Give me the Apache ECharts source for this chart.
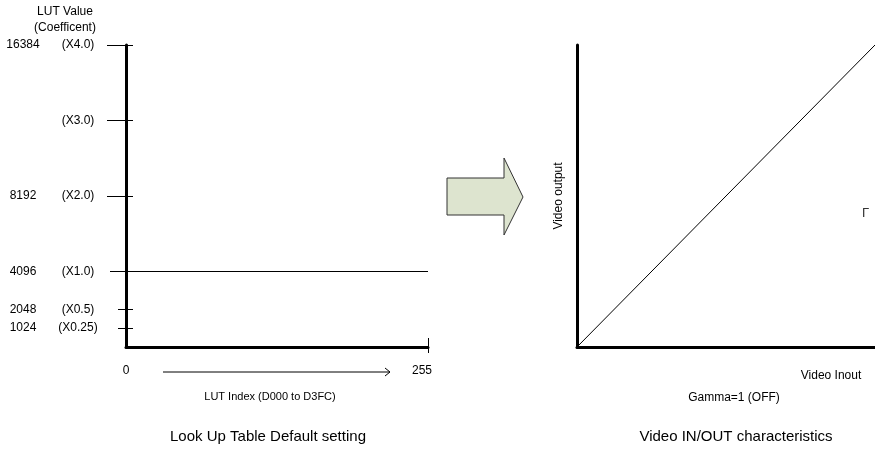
<!DOCTYPE html>
<html><head><meta charset="utf-8">
<script src="https://cdn.jsdelivr.net/npm/echarts@6/dist/echarts.min.js"></script>
<style>html,body{margin:0;padding:0;background:#fff}#c{width:875px;height:450px}</style>
</head><body><div id="c"></div>
<script>
// ---- data ----
const lutXRange = [0, 255];
const lutYRange = [0, 16384];
const lutLine = [[0, 4096], [255, 4096]];
const yTickValues = [1024, 2048, 4096, 8192, 12288, 16384];
const yNumLabels = ['1024', '2048', '4096', '8192', '', '16384'];
const yCoefLabels = ['(X0.25)', '(X0.5)', '(X1.0)', '(X2.0)', '(X3.0)', '(X4.0)'];
const longTicks = [8192, 12288, 16384];
const shortTicks = [1024, 2048];
const midTicks = [4096];
const innerTicks = [1024, 2048, 8192, 12288, 16384];
const xTickLabels = [0, 255];
const xTickMarks = [255];
const gammaRange = [0, 1];
const gammaLine = [[0, 0], [1, 1]];

const FONT = '"Liberation Sans", Arial, sans-serif';
const BLACK = '#000';
const chart = echarts.init(document.getElementById('c'), null, { renderer: 'canvas' });

function hiddenAxisBase(extra) {
  return Object.assign({
    type: 'value', gridIndex: 0, position: 'left', offset: 0,
    min: lutYRange[0], max: lutYRange[1],
    axisLine: { show: false }, axisLabel: { show: false }, splitLine: { show: false }
  }, extra);
}

const option = {
  animation: false,
  backgroundColor: '#fff',
  textStyle: { fontFamily: FONT, color: BLACK },
  grid: [
    { left: 126, top: 45, width: 302, height: 302 },
    { left: 577, top: 45, width: 302, height: 302 }
  ],
  xAxis: [
    {
      type: 'value', gridIndex: 0, position: 'bottom', min: lutXRange[0], max: lutXRange[1],
      axisLine: { show: true, lineStyle: { color: BLACK, width: 3 } },
      axisTick: { show: true, customValues: xTickMarks, length: 6, lineStyle: { color: BLACK, width: 1 } },
      axisLabel: {
        show: true, customValues: xTickLabels, margin: 18, color: BLACK, fontSize: 12, fontFamily: FONT,
        formatter: function (v) { return v === 0 ? '{a|0}' : '{b|' + v + '}'; },
        rich: {
          a: { fontSize: 12, fontFamily: FONT, color: BLACK },
          b: { fontSize: 12, fontFamily: FONT, color: BLACK, padding: [0, 12, 0, 0] }
        }
      },
      splitLine: { show: false }
    },
    {
      type: 'value', gridIndex: 0, position: 'bottom', offset: 0, min: lutXRange[0], max: lutXRange[1],
      axisLine: { show: false },
      axisTick: { show: true, inside: true, customValues: xTickMarks, length: 9, lineStyle: { color: BLACK, width: 1 } },
      axisLabel: { show: false }, splitLine: { show: false }
    },
    {
      type: 'value', gridIndex: 1, position: 'bottom', min: gammaRange[0], max: gammaRange[1],
      axisLine: { show: true, lineStyle: { color: BLACK, width: 3 } },
      axisTick: { show: false }, axisLabel: { show: false }, splitLine: { show: false }
    }
  ],
  yAxis: [
    {
      type: 'value', gridIndex: 0, position: 'left', min: lutYRange[0], max: lutYRange[1],
      axisLine: { show: true, lineStyle: { color: BLACK, width: 3 } },
      axisTick: { show: true, customValues: longTicks, length: 19, lineStyle: { color: BLACK, width: 1 } },
      axisLabel: {
        show: true, customValues: yTickValues, margin: 26, color: BLACK, fontSize: 12, fontFamily: FONT,
        formatter: function (v) {
          const i = yTickValues.indexOf(v);
          const n = yNumLabels[i] || ' ';
          return '{n|' + n + '}{s| }{c|' + yCoefLabels[i] + '}';
        },
        rich: {
          n: { width: 38, align: 'right', fontSize: 12, fontFamily: FONT, color: BLACK },
          s: { width: 14 },
          c: { width: 44, align: 'center', fontSize: 12, fontFamily: FONT, color: BLACK }
        }
      },
      splitLine: { show: false }
    },
    hiddenAxisBase({ axisTick: { show: true, customValues: shortTicks, length: 8, lineStyle: { color: BLACK, width: 1 } } }),
    hiddenAxisBase({ axisTick: { show: true, customValues: midTicks, length: 16, lineStyle: { color: BLACK, width: 1 } } }),
    hiddenAxisBase({ axisTick: { show: true, inside: true, customValues: innerTicks, length: 7, lineStyle: { color: BLACK, width: 1 } } }),
    {
      type: 'value', gridIndex: 1, position: 'left', min: gammaRange[0], max: gammaRange[1],
      name: 'Video output', nameLocation: 'middle', nameGap: 12, nameRotate: 90,
      nameTextStyle: { color: BLACK, fontSize: 12, fontFamily: FONT },
      axisLine: { show: true, lineStyle: { color: BLACK, width: 3 } },
      axisTick: { show: false }, axisLabel: { show: false }, splitLine: { show: false }
    }
  ],
  series: [
    {
      type: 'line', xAxisIndex: 0, yAxisIndex: 0, data: lutLine, symbol: 'none',
      lineStyle: { color: BLACK, width: 1 }, silent: true, clip: false
    },
    {
      type: 'line', xAxisIndex: 2, yAxisIndex: 4, data: gammaLine, symbol: 'none',
      lineStyle: { color: BLACK, width: 1 }, silent: true
    }
  ],
  graphic: [
    { type: 'text', style: { text: 'LUT Value', x: 65, y: 12, align: 'center', verticalAlign: 'middle', fontSize: 12, fontFamily: FONT, fill: BLACK } },
    { type: 'text', style: { text: '(Coefficent)', x: 65, y: 28, align: 'center', verticalAlign: 'middle', fontSize: 12, fontFamily: FONT, fill: BLACK } },
    { type: 'line', shape: { x1: 163, y1: 372, x2: 390, y2: 372 }, style: { stroke: BLACK, lineWidth: 1 } },
    { type: 'polyline', shape: { points: [[385, 368], [390, 372], [385, 376]] }, style: { stroke: BLACK, lineWidth: 1, fill: null } },
    { type: 'text', style: { text: 'LUT Index (D000 to D3FC)', x: 270, y: 397, align: 'center', verticalAlign: 'middle', fontSize: 11, fontFamily: FONT, fill: BLACK } },
    { type: 'text', style: { text: 'Look Up Table Default setting', x: 268, y: 437, align: 'center', verticalAlign: 'middle', fontSize: 15, fontFamily: FONT, fill: BLACK } },
    { type: 'polygon', shape: { points: [[447, 178], [504, 178], [504, 158], [523, 197], [504, 235], [504, 215], [447, 215]] }, style: { fill: '#dde4cf', stroke: '#333', lineWidth: 1 } },
    { type: 'text', style: { text: 'Video Inout', x: 831, y: 376, align: 'center', verticalAlign: 'middle', fontSize: 12, fontFamily: FONT, fill: BLACK } },
    { type: 'text', style: { text: 'Gamma=1 (OFF)', x: 734, y: 398, align: 'center', verticalAlign: 'middle', fontSize: 12, fontFamily: FONT, fill: BLACK } },
    { type: 'text', style: { text: 'Video IN/OUT characteristics', x: 736, y: 437, align: 'center', verticalAlign: 'middle', fontSize: 15, fontFamily: FONT, fill: BLACK } },
    { type: 'text', style: { text: 'Γ', x: 862, y: 213, align: 'left', verticalAlign: 'middle', fontSize: 13, fontFamily: FONT, fill: '#333' } }
  ]
};
chart.setOption(option);
</script>
</body></html>
